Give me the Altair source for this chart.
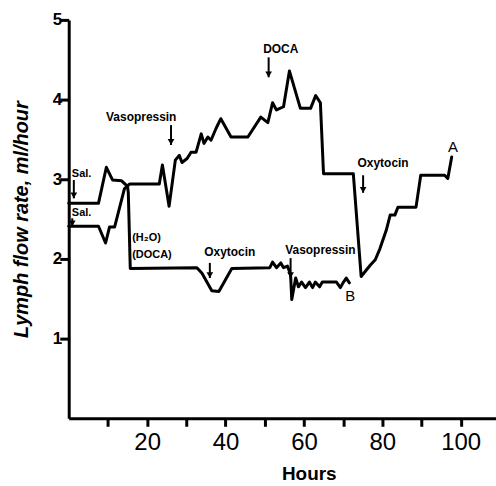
import altair as alt
import pandas as pd

# Series ending at label "A" (starts at the lower Sal. level)
hours_a = [0, 7.6, 9.4, 10.4, 11.7, 14.2, 15.5, 23.1, 23.9, 25.6, 27.2, 28.2, 28.9, 30.2,
           31.2, 32.5, 33.8, 34.5, 35.5, 36.3, 37.6, 38.8, 41.4, 45.7, 49.0, 50.8, 52.0,
           53.0, 54.8, 56.3, 59.1, 61.7, 63.0, 64.2, 65.0, 72.6, 74.6, 76.9, 78.2, 79.4,
           81.0, 82.0, 83.2, 84.0, 88.6, 89.8, 95.9, 96.7, 97.7]
flow_a = [2.41, 2.41, 2.20, 2.40, 2.40, 2.88, 2.94, 2.94, 3.18, 2.66, 3.24, 3.30, 3.21, 3.26,
          3.34, 3.34, 3.57, 3.45, 3.53, 3.49, 3.64, 3.76, 3.53, 3.53, 3.78, 3.71, 3.96,
          3.87, 3.91, 4.36, 3.89, 3.89, 4.05, 3.96, 3.07, 3.07, 1.78, 1.92, 1.99, 2.13,
          2.36, 2.55, 2.55, 2.65, 2.65, 3.05, 3.05, 3.01, 3.28]

# Series ending at label "B" (starts at the upper Sal. level)
hours_b = [0, 7.6, 9.6, 11.2, 13.5, 15.0, 15.2, 15.7, 32.7, 34.0, 36.5, 38.3, 41.6, 51.3,
           52.0, 53.0, 54.1, 54.8, 55.8, 56.6, 56.9, 57.9, 58.6, 59.4, 60.4, 61.4, 62.2,
           62.9, 64.0, 64.7, 68.3, 69.3, 70.1, 70.8, 71.6]
flow_b = [2.70, 2.70, 3.15, 2.99, 2.98, 2.91, 2.83, 1.88, 1.89, 1.82, 1.60, 1.59, 1.88, 1.89,
          1.96, 1.89, 1.95, 1.89, 1.91, 1.80, 1.49, 1.76, 1.65, 1.71, 1.64, 1.71, 1.64,
          1.71, 1.65, 1.71, 1.71, 1.64, 1.71, 1.76, 1.70]

# Annotations (data coordinates)
left_labels = ["Sal.", "Sal.", "(H\u2082O)", "(DOCA)"]
left_h = [0.8, 0.8, 16.2, 16.2]
left_v = [3.06, 2.58, 2.26, 2.05]

center_labels = ["Vasopressin", "DOCA", "Oxytocin", "Oxytocin", "Vasopressin"]
center_h = [18.5, 54.1, 80.2, 41.1, 64.2]
center_v = [3.78, 4.64, 3.21, 2.09, 2.11]

end_labels = ["A", "B"]
end_h = [98.0, 71.8]
end_v = [3.40, 1.53]

arrow_h = [1.3, 0.9, 26.1, 51.0, 75.1, 36.0, 56.6]
arrow_top = [2.99, 2.51, 3.68, 4.53, 3.05, 1.95, 2.01]
arrow_bottom = [2.76, 2.41, 3.43, 4.28, 2.83, 1.76, 1.76]

x_ticks = list(range(10, 101, 10))
y_ticks = [1, 2, 3, 4, 5]

rows = []
for i, (h, v) in enumerate(zip(hours_a, flow_a)):
    rows.append({"series": "A", "order": i, "hours": h, "flow": v})
for i, (h, v) in enumerate(zip(hours_b, flow_b)):
    rows.append({"series": "B", "order": i, "hours": h, "flow": v})
lines_df = pd.DataFrame(rows)

left_df = pd.DataFrame({"label": left_labels, "hours": left_h, "flow": left_v})
center_df = pd.DataFrame({"label": center_labels, "hours": center_h, "flow": center_v})
end_df = pd.DataFrame({"label": end_labels, "hours": end_h, "flow": end_v})
arrow_df = pd.DataFrame({"hours": arrow_h, "top": arrow_top, "bottom": arrow_bottom})

FONT = "Liberation Sans"

x_scale = alt.Scale(domain=[0, 109], nice=False, zero=False)
y_scale = alt.Scale(domain=[0, 5], nice=False)

x_axis = alt.Axis(
    values=x_ticks,
    labelExpr="datum.value % 20 == 0 ? datum.label : ''",
    grid=False, domainColor="black", domainWidth=3, tickColor="black", tickWidth=3,
    tickSize=8, labelFont=FONT, labelFontSize=24, labelColor="black", labelPadding=4,
    title="Hours", titleFont=FONT, titleFontSize=19,
    titleFontWeight="bold", titleColor="black", titleX=241, titleY=55,
    titleAlign="center", titleBaseline="middle",
)
y_axis = alt.Axis(
    values=y_ticks, format="d",
    grid=False, domainColor="black", domainWidth=3, tickColor="black", tickWidth=3,
    tickSize=9, labelFont=FONT, labelFontSize=17, labelFontWeight="bold",
    labelColor="black", labelPadding=-2,
    title="Lymph flow rate, ml/hour", titleFont=FONT, titleFontSize=20,
    titleFontWeight="bold", titleFontStyle="italic", titleColor="black",
    titleX=-41, titleY=200, titleAlign="center", titleBaseline="alphabetic", titleAngle=270,
)

lines = alt.Chart(lines_df).mark_line(
    color="black", strokeWidth=3, strokeJoin="round", strokeCap="round"
).encode(
    x=alt.X("hours:Q", scale=x_scale, axis=x_axis),
    y=alt.Y("flow:Q", scale=y_scale, axis=y_axis),
    detail="series:N",
    order="order:Q",
)

left_text = alt.Chart(left_df).mark_text(
    align="left", baseline="middle", font=FONT, fontSize=11, fontWeight="bold", color="black"
).encode(x=alt.X("hours:Q", scale=x_scale), y=alt.Y("flow:Q", scale=y_scale), text="label:N")

center_text = alt.Chart(center_df).mark_text(
    align="center", baseline="middle", font=FONT, fontSize=12, fontWeight="bold", color="black"
).encode(x=alt.X("hours:Q", scale=x_scale), y=alt.Y("flow:Q", scale=y_scale), text="label:N")

end_text = alt.Chart(end_df).mark_text(
    align="center", baseline="middle", font=FONT, fontSize=15, color="black"
).encode(x=alt.X("hours:Q", scale=x_scale), y=alt.Y("flow:Q", scale=y_scale), text="label:N")

arrow_shaft = alt.Chart(arrow_df).mark_rule(color="black", strokeWidth=2).encode(
    x=alt.X("hours:Q", scale=x_scale),
    y=alt.Y("top:Q", scale=y_scale),
    y2="bottom:Q",
)
arrow_head = alt.Chart(arrow_df).mark_point(
    shape="triangle-down", filled=True, color="black", size=45, opacity=1, yOffset=-3
).encode(
    x=alt.X("hours:Q", scale=x_scale),
    y=alt.Y("bottom:Q", scale=y_scale),
)

chart = alt.layer(lines, arrow_shaft, arrow_head, left_text, center_text, end_text).properties(
    width=429, height=400,
    autosize=alt.AutoSizeParams(type="none"),
    padding={"left": 69, "top": 19, "right": 0, "bottom": 67},
    background="white",
).configure_view(strokeWidth=0)

chart.save("out.html", embed_options={"renderer": "svg", "actions": False})
